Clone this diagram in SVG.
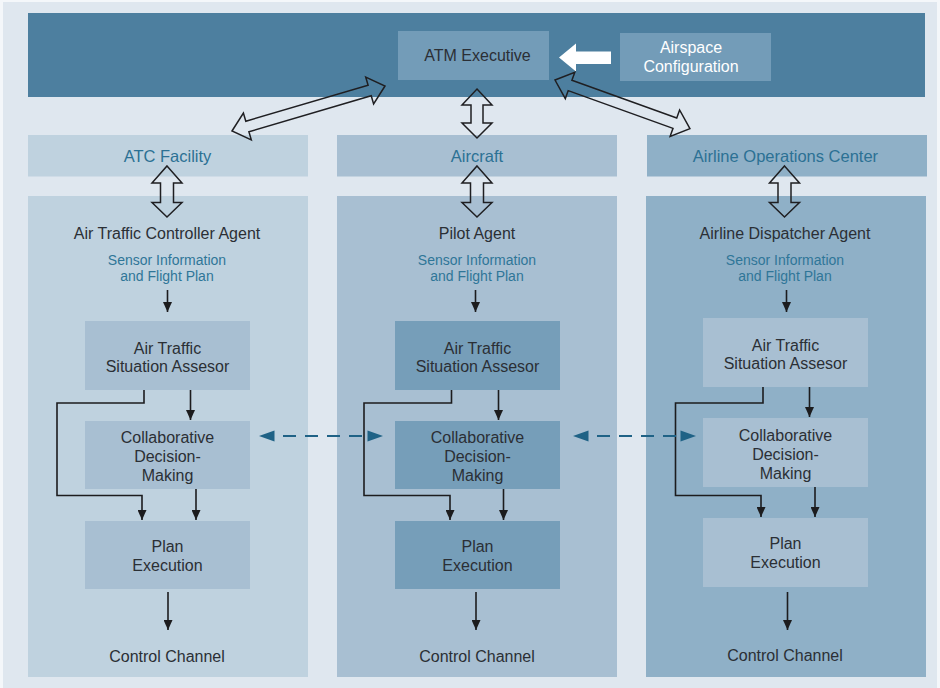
<svg xmlns="http://www.w3.org/2000/svg" width="940" height="688" viewBox="0 0 940 688">
  <defs>
    <style>
      .t { font-family: "Liberation Sans", Arial, sans-serif; font-size: 16px; fill: #2b2f35; text-anchor: middle; }
      .hd { font-family: "Liberation Sans", Arial, sans-serif; font-size: 16.5px; fill: #2c7194; text-anchor: middle; }
      .si { font-family: "Liberation Sans", Arial, sans-serif; font-size: 14px; fill: #2f7698; text-anchor: middle; }
      .wt { font-family: "Liberation Sans", Arial, sans-serif; font-size: 16px; fill: #ffffff; text-anchor: middle; }
      .p1 { fill: #bfd2df; }
      .p2 { fill: #a8bfd2; }
      .p3 { fill: #8fb0c7; }
      .b2 { fill: #769eb9; }
      .ln { fill: none; stroke: #1c1c1e; stroke-width: 1.6; }
      .ar { fill: none; stroke: #1c1c1e; stroke-width: 1.6; marker-end: url(#head); }
      .hollow { fill: none; stroke: #1f1f22; stroke-width: 1.5; stroke-linejoin: miter; }
      .dash { fill: none; stroke: #1f6286; stroke-width: 2; stroke-dasharray: 13 9; }
      .dh { fill: #1f6286; }
    </style>
    <marker id="head" markerUnits="userSpaceOnUse" markerWidth="10" markerHeight="9" refX="10" refY="4.5" orient="auto">
      <path d="M0,0 L10,4.5 L0,9 Z" fill="#1c1c1e"/>
    </marker>
  </defs>

  <!-- page -->
  <rect x="0" y="0" width="940" height="688" fill="#f4f7fa"/>
  <rect x="3" y="2" width="934" height="686" fill="#dfe7ef"/>

  <!-- top band -->
  <g id="atm-band">
    <rect x="28" y="13" width="897" height="84" fill="#4d7f9f"/>
  </g>

  <g id="atm-executive">
    <rect x="398" y="31" width="151" height="49" fill="#739cb8"/>
    <text class="t" x="477.5" y="61">ATM Executive</text>
  </g>

  <g id="airspace-configuration">
    <rect x="620" y="33" width="151" height="48" fill="#739cb8"/>
    <text class="wt" x="691" y="53">Airspace</text>
    <text class="wt" x="691" y="72">Configuration</text>
  </g>

  <!-- column headers -->
  <g id="atc-facility">
    <rect class="p1" x="28" y="135" width="280" height="41.5"/>
    <text class="hd" x="167.5" y="162">ATC Facility</text>
  </g>
  <g id="aircraft">
    <rect class="p2" x="337" y="135" width="280" height="41.5"/>
    <text class="hd" x="477" y="161.5">Aircraft</text>
  </g>
  <g id="airline-operations-center">
    <rect class="p3" x="647" y="135" width="280" height="41.5"/>
    <text class="hd" x="785.5" y="161.5">Airline Operations Center</text>
  </g>

  <!-- column panels -->
  <g id="atc-agent">
    <rect class="p1" x="28" y="196" width="280" height="481"/>
    <text class="t" x="167" y="239">Air Traffic Controller Agent</text>
    <text class="si" x="167" y="265">Sensor Information</text>
    <text class="si" x="167" y="281">and Flight Plan</text>
    <text class="t" x="167" y="662">Control Channel</text>
  </g>
  <g id="pilot-agent">
    <rect class="p2" x="337" y="196" width="280" height="481"/>
    <text class="t" x="477" y="239">Pilot Agent</text>
    <text class="si" x="477" y="265">Sensor Information</text>
    <text class="si" x="477" y="281">and Flight Plan</text>
    <text class="t" x="477" y="662">Control Channel</text>
  </g>
  <g id="dispatcher-agent">
    <rect class="p3" x="646" y="196" width="280" height="481"/>
    <text class="t" x="785" y="239">Airline Dispatcher Agent</text>
    <text class="si" x="785" y="265">Sensor Information</text>
    <text class="si" x="785" y="281">and Flight Plan</text>
    <text class="t" x="785" y="661">Control Channel</text>
  </g>

  <!-- ATC column blocks -->
  <g id="atc-assessor">
    <rect class="p2" x="85" y="321" width="165" height="69"/>
    <text class="t" x="167.5" y="354">Air Traffic</text>
    <text class="t" x="167.5" y="372">Situation Assesor</text>
  </g>
  <g id="atc-cdm">
    <rect class="p2" x="85" y="421" width="165" height="68"/>
    <text class="t" x="167.5" y="443">Collaborative</text>
    <text class="t" x="167.5" y="462">Decision-</text>
    <text class="t" x="167.5" y="481">Making</text>
  </g>
  <g id="atc-plan">
    <rect class="p2" x="85" y="521" width="165" height="68"/>
    <text class="t" x="167.5" y="552">Plan</text>
    <text class="t" x="167.5" y="571">Execution</text>
  </g>

  <!-- Pilot column blocks -->
  <g id="pilot-assessor">
    <rect class="b2" x="395" y="321" width="165" height="69"/>
    <text class="t" x="477.5" y="354">Air Traffic</text>
    <text class="t" x="477.5" y="372">Situation Assesor</text>
  </g>
  <g id="pilot-cdm">
    <rect class="b2" x="395" y="421" width="165" height="68"/>
    <text class="t" x="477.5" y="443">Collaborative</text>
    <text class="t" x="477.5" y="462">Decision-</text>
    <text class="t" x="477.5" y="481">Making</text>
  </g>
  <g id="pilot-plan">
    <rect class="b2" x="395" y="521" width="165" height="68"/>
    <text class="t" x="477.5" y="552">Plan</text>
    <text class="t" x="477.5" y="571">Execution</text>
  </g>

  <!-- Dispatcher column blocks -->
  <g id="dispatcher-assessor">
    <rect class="p2" x="703" y="318" width="165" height="69"/>
    <text class="t" x="785.5" y="351">Air Traffic</text>
    <text class="t" x="785.5" y="369">Situation Assesor</text>
  </g>
  <g id="dispatcher-cdm">
    <rect class="p2" x="703" y="418" width="165" height="69"/>
    <text class="t" x="785.5" y="441">Collaborative</text>
    <text class="t" x="785.5" y="460">Decision-</text>
    <text class="t" x="785.5" y="479">Making</text>
  </g>
  <g id="dispatcher-plan">
    <rect class="p2" x="703" y="518" width="165" height="69"/>
    <text class="t" x="785.5" y="549">Plan</text>
    <text class="t" x="785.5" y="568">Execution</text>
  </g>

  <!-- connectors -->
  <g id="connectors">
    <!-- airspace configuration feeds the executive -->
    <polygon points="559,57.5 576,43.5 576,51.5 611,51.5 611,64 576,64 576,71.5" fill="#ffffff"/>

    <!-- hollow two-way links: executive to facilities -->
    <path class="hollow" transform="translate(232,131) rotate(-16.4)" d="M0,0 L16,-14 L16,-5.5 L143.5,-5.5 L143.5,-14 L159.5,0 L143.5,14 L143.5,5.5 L16,5.5 L16,14 Z"/>
    <path class="hollow" transform="translate(555,80) rotate(19.8)" d="M0,0 L16,-14 L16,-5.5 L127.4,-5.5 L127.4,-14 L143.4,0 L127.4,14 L127.4,5.5 L16,5.5 L16,14 Z"/>
    <path class="hollow" d="M477,89 L492,105 L483,105 L483,123 L492,123 L477,138 L462,123 L471,123 L471,105 L462,105 Z"/>

    <!-- hollow two-way links: facilities to agents -->
    <path class="hollow" d="M167,166 L182,183 L173.5,183 L173.5,202.5 L182,202.5 L167,217 L152,202.5 L160.5,202.5 L160.5,183 L152,183 Z"/>
    <path class="hollow" d="M477,166 L492,183 L483.5,183 L483.5,202.5 L492,202.5 L477,217 L462,202.5 L470.5,202.5 L470.5,183 L462,183 Z"/>
    <path class="hollow" d="M784.5,166 L799.5,183 L791,183 L791,202.5 L799.5,202.5 L784.5,217 L769.5,202.5 L778,202.5 L778,183 L769.5,183 Z"/>

    <!-- ATC column flow -->
    <line class="ar" x1="167.5" y1="290" x2="167.5" y2="312"/>
    <line class="ar" x1="190.5" y1="390" x2="190.5" y2="420"/>
    <polyline class="ar" points="144,390 144,403 57,403 57,495.5 142,495.5 142,520"/>
    <line class="ar" x1="196" y1="489" x2="196" y2="520"/>
    <line class="ar" x1="168" y1="592" x2="168" y2="630"/>

    <!-- Pilot column flow -->
    <line class="ar" x1="475.5" y1="290" x2="475.5" y2="312"/>
    <line class="ar" x1="498.5" y1="390" x2="498.5" y2="420"/>
    <polyline class="ar" points="451.5,390 451.5,403 364,403 364,495.5 450,495.5 450,520"/>
    <line class="ar" x1="503.5" y1="489" x2="503.5" y2="520"/>
    <line class="ar" x1="476" y1="592" x2="476" y2="630"/>

    <!-- Dispatcher column flow -->
    <line class="ar" x1="786.5" y1="290" x2="786.5" y2="312"/>
    <line class="ar" x1="809.5" y1="387" x2="809.5" y2="417"/>
    <polyline class="ar" points="763,387 763,403 675.5,403 675.5,495.5 761,495.5 761,517"/>
    <line class="ar" x1="815" y1="487" x2="815" y2="517"/>
    <line class="ar" x1="787.5" y1="592" x2="787.5" y2="630"/>

    <!-- collaborative decision-making exchanges -->
    <line class="dash" x1="283" y1="436" x2="363" y2="436"/>
    <polygon class="dh" points="259,436 274.5,430.5 274.5,441.5"/>
    <polygon class="dh" points="383,436 367.5,430.5 367.5,441.5"/>
    <line class="dash" x1="597" y1="436" x2="677" y2="436"/>
    <polygon class="dh" points="573,436 588.5,430.5 588.5,441.5"/>
    <polygon class="dh" points="696,436 680.5,430.5 680.5,441.5"/>
  </g>
</svg>
